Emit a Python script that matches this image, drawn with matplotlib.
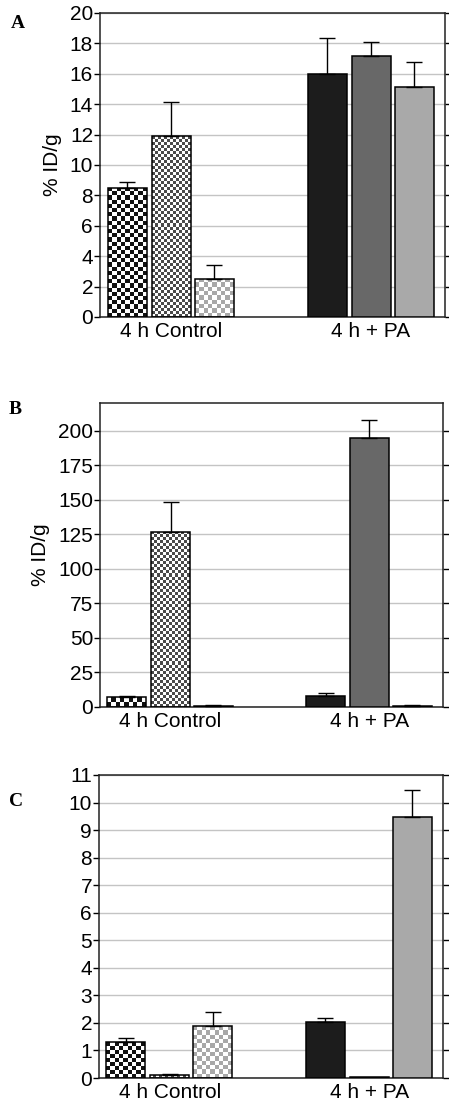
import numpy as np
import matplotlib
matplotlib.use("Agg")
import matplotlib.pyplot as plt
from matplotlib.colors import ListedColormap

plt.rcParams['font.family'] = ['Liberation Sans', 'DejaVu Sans']

groups = ["4 h Control", "4 h + PA"]

# Panel A
a_ctrl = [8.5, 11.9, 2.53]
a_ctrl_err = [0.36, 2.23, 0.87]
a_pa = [16.0, 17.2, 15.1]
a_pa_err = [2.33, 0.9, 1.65]
a_ticks = [0, 2, 4, 6, 8, 10, 12, 14, 16, 18, 20]

# Panel B
b_ctrl = [7.0, 127.0, 1.0]
b_ctrl_err = [0.6, 21.6, 0.3]
b_pa = [8.2, 195.0, 1.0]
b_pa_err = [1.7, 13.0, 0.3]
b_ticks = [0, 25, 50, 75, 100, 125, 150, 175, 200]

# Panel C
c_ctrl = [1.30, 0.12, 1.87]
c_ctrl_err = [0.17, 0.03, 0.52]
c_pa = [2.03, 0.05, 9.48]
c_pa_err = [0.14, 0.0, 0.97]
c_ticks = [0, 1, 2, 3, 4, 5, 6, 7, 8, 9, 10, 11]

W, H = 449, 1104
fig = plt.figure(figsize=(W / 100, H / 100), dpi=100)


def ax_at(left, top, right, bottom):
    return fig.add_axes([left / W, (H - bottom) / H, (right - left) / W, (bottom - top) / H])


offsets = [-0.22, 0.0, 0.215]
bw = 0.195
ctrl_styles = [('#111111', 'white', 4.2), ('white', '#4a4a4a', 3.0), ('white', '#a8a8a8', 4.2)]
pa_colors = ['#1c1c1c', '#686868', '#a9a9a9']


def checker(ax, bar, cell_px, c1, c2):
    x0, y0 = bar.get_x(), bar.get_y()
    w, h = bar.get_width(), bar.get_height()
    (px0, py0), (px1, py1) = ax.transData.transform([(x0, y0), (x0 + w, y0 + h)])
    nx = max(1, int(round((px1 - px0) / cell_px)))
    ny = max(1, int(round((py1 - py0) / cell_px)))
    arr = np.add.outer(np.arange(ny), np.arange(nx)) % 2
    im = ax.imshow(arr, extent=(x0, x0 + w, y0, y0 + h), cmap=ListedColormap([c1, c2]),
                   interpolation='nearest', aspect='auto', origin='lower', zorder=2, vmin=0, vmax=1)
    im.set_clip_path(bar)


def ax_center_y(ax):
    p = ax.get_position()
    return 1 - (p.y0 + p.height / 2)


def panel(ax, ctrl, ctrl_err, pa, pa_err, ticks, ymax, letter, lx, ly, ylabel=None, ylx=None):
    ax.set_xlim(-0.355, 1.37)
    ax.set_ylim(0, ymax)
    ax.set_yticks(ticks)
    ax.set_yticklabels([str(t) for t in ticks])
    ax.yaxis.grid(True, color='#c4c4c4', lw=1.0)
    ax.set_axisbelow(True)
    ax.tick_params(axis='y', direction='out', length=4, width=1, pad=1, labelsize=15,
                   right=True, labelright=False)
    ax.set_xticks([0, 1])
    ax.set_xticklabels(groups)
    ax.tick_params(axis='x', length=0, pad=3.5, labelsize=15)
    for s in ax.spines.values():
        s.set_linewidth(1.1)
        s.set_color('#222222')
    for i in range(3):
        fc, pc, cell = ctrl_styles[i]
        b = ax.bar(offsets[i], ctrl[i], width=bw, color='none', edgecolor='black', lw=1.1, zorder=3)[0]
        checker(ax, b, cell, fc, pc)
        if ctrl_err[i] > 0:
            ax.errorbar(offsets[i], ctrl[i], yerr=[[0], [ctrl_err[i]]], fmt='none', ecolor='black',
                        elinewidth=1, capsize=6, capthick=1, zorder=4)
    for i in range(3):
        ax.bar(1 + offsets[i], pa[i], width=bw, color=pa_colors[i], edgecolor='black', lw=1.1, zorder=3)
        if pa_err[i] > 0:
            ax.errorbar(1 + offsets[i], pa[i], yerr=[[0], [pa_err[i]]], fmt='none', ecolor='black',
                        elinewidth=1, capsize=6, capthick=1, zorder=4)
    ax.set_xlim(-0.355, 1.37)
    ax.set_ylim(0, ymax)
    fig.text(lx / W, 1 - ly / H, letter, family='Liberation Serif', weight='bold', fontsize=14,
             ha='center', va='center')
    if ylabel:
        fig.text(ylx / W, 1 - ax_center_y(ax), ylabel, rotation=90, fontsize=15, ha='center', va='center')


axA = ax_at(100, 13, 445, 317)
panel(axA, a_ctrl, a_ctrl_err, a_pa, a_pa_err, a_ticks, 20, 'A', 18, 23, '% ID/g', 52)

axB = ax_at(100, 403, 443, 707)
panel(axB, b_ctrl, b_ctrl_err, b_pa, b_pa_err, b_ticks, 220, 'B', 15, 410, '% ID/g', 40)

axC = ax_at(99, 775, 443, 1078)
panel(axC, c_ctrl, c_ctrl_err, c_pa, c_pa_err, c_ticks, 11, 'C', 16, 802)

fig.savefig('out.png', dpi=100)
